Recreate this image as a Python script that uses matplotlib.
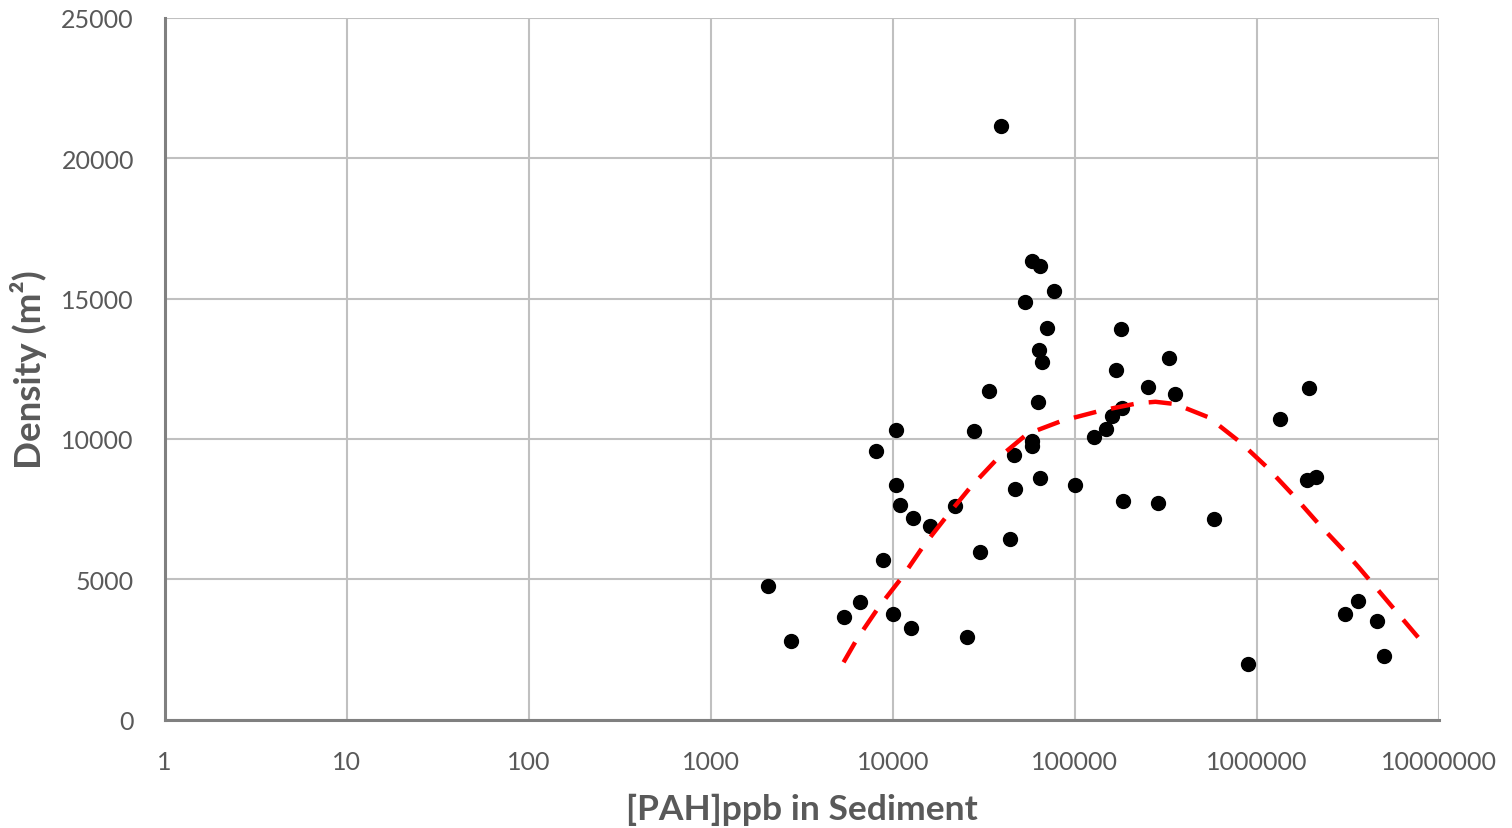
import matplotlib
matplotlib.use("Agg")
import matplotlib.pyplot as plt
from matplotlib.ticker import FixedLocator, FixedFormatter

# Scatter data: [PAH] ppb in sediment vs density
pah_ppb = [2052, 2769, 5366, 6628, 8045, 8836, 10025, 10452, 10452, 10899,
           12637, 12848, 16069, 22049, 25564, 27797, 29996, 33785, 39470, 43831,
           46098, 46686, 53263, 58188, 58188, 58188, 63025, 63816, 64059, 64059,
           66283, 69993, 76877, 100630, 127200, 147650, 159100, 167350, 178500, 181900,
           183050, 253400, 285000, 329300, 355800, 584100, 888900, 1342700, 1887000, 1935600,
           2101600, 3051600, 3597600, 4575200, 5018300]
density = [4770, 2790, 3660, 4190, 9570, 5680, 3760, 10300, 8360, 7650,
           3260, 7190, 6890, 7600, 2930, 10270, 5970, 11690, 21140, 6420,
           9410, 8210, 14870, 16330, 9930, 9760, 11300, 13180, 16150, 8620,
           12730, 13940, 15260, 8360, 10050, 10370, 10810, 12460, 13900, 11110,
           7770, 11850, 7730, 12870, 11590, 7150, 1970, 10710, 8530, 11800,
           8650, 3770, 4210, 3510, 2270]

# Trend curve
trend_x = [5366, 6359, 8356, 11234, 14767, 19862, 26665, 37368, 54620, 85050,
           138060, 219700, 276960, 356600, 543500, 811700, 1137600, 1593000,
           2186000, 3064000, 3625000, 8250000]
trend_y = [2038, 2868, 3997, 5066, 6193, 7261, 8273, 9282, 10172, 10646,
           11003, 11266, 11323, 11241, 10767, 9877, 8986, 7974,
           6966, 5957, 5423, 2690]

x_ticks = [1, 10, 100, 1000, 10000, 100000, 1000000, 10000000]
x_tick_labels = ["1", "10", "100", "1000", "10000", "100000", "1000000", "10000000"]
y_ticks = [0, 5000, 10000, 15000, 20000, 25000]
y_tick_labels = ["0", "5000", "10000", "15000", "20000", "25000"]

plt.rcParams['font.family'] = ['Lato', 'DejaVu Sans']

fig = plt.figure(figsize=(15.12, 8.29), dpi=100)
ax = fig.add_axes([164.5 / 1512, 1 - 720.5 / 829, (1439 - 164.5) / 1512, (720.5 - 19) / 829])

ax.set_xscale('log')
ax.set_xlim(1, 1e7)
ax.set_ylim(0, 25000)

ax.xaxis.set_major_locator(FixedLocator(x_ticks))
ax.xaxis.set_major_formatter(FixedFormatter(x_tick_labels))
ax.xaxis.set_minor_locator(FixedLocator([]))
ax.yaxis.set_major_locator(FixedLocator(y_ticks))
ax.yaxis.set_major_formatter(FixedFormatter(y_tick_labels))

ax.grid(True, color='#c0c0c0', linewidth=1.5, zorder=0)
ax.set_axisbelow(True)

for s in ['top', 'right']:
    ax.spines[s].set_visible(False)
for s in ['left', 'bottom']:
    ax.spines[s].set_color('#808080')
    ax.spines[s].set_linewidth(2.2)
    ax.spines[s].set_zorder(3)

ax.tick_params(axis='both', length=0, labelsize=18, labelcolor='#595959')
ax.tick_params(axis='x', pad=22)
ax.tick_params(axis='y', pad=22)

ax.plot(pah_ppb, density, 'o', color='black', markersize=10, zorder=4, clip_on=False)
ax.plot(trend_x, trend_y, color='#ff0000', linewidth=3.2, linestyle=(0, (5.2, 3.4)),
        zorder=5, solid_capstyle='butt', dash_capstyle='butt')

ax.set_xlabel('[PAH]ppb in Sediment', fontsize=25.5, fontweight='bold', color='#595959', labelpad=14)
ax.set_ylabel('Density (m²)', fontsize=26.5, fontweight='bold', color='#595959', labelpad=10)

fig.savefig('out.png', dpi=100)
